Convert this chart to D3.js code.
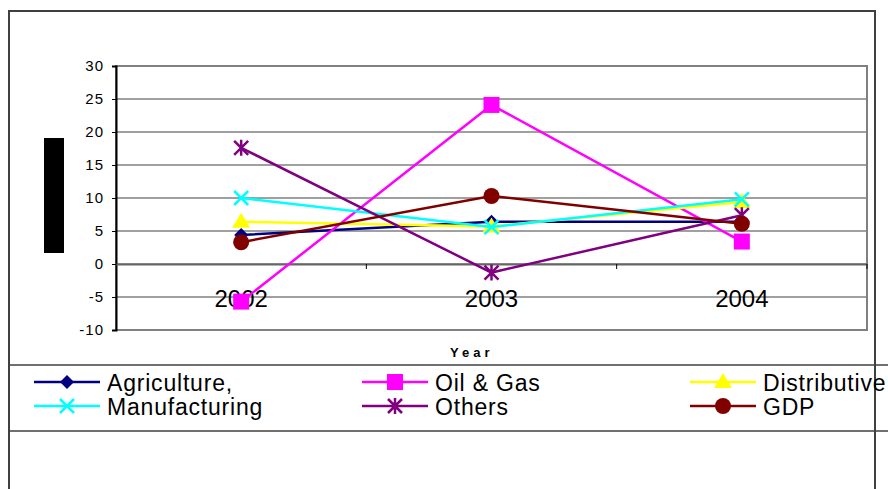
<!DOCTYPE html>
<html>
<head>
<meta charset="utf-8">
<script src="https://cdn.jsdelivr.net/npm/d3@7"></script>
<style>
  html, body { margin: 0; padding: 0; background: #fff; }
  svg { display: block; font-family: Arial, "Liberation Sans", sans-serif; }
</style>
</head>
<body>
<svg id="chart" width="888" height="489"></svg>
<script>
// Data
const years = ['2002', '2003', '2004'];
const agriculture = [4.4, 6.4, 6.4];
const oilGas = [-5.7, 24.1, 3.4];
const distributive = [6.4, 5.7, 9.4];
const manufacturing = [10.0, 5.6, 9.8];
const others = [17.6, -1.3, 7.4];
const gdp = [3.3, 10.3, 6.1];
const yTicks = [30, 25, 20, 15, 10, 5, 0, -5, -10];

const series = [
  { name: 'Agriculture,', values: agriculture, color: '#000080', marker: 'diamond' },
  { name: 'Oil & Gas', values: oilGas, color: '#ff00ff', marker: 'square' },
  { name: 'Distributive', values: distributive, color: '#ffff00', marker: 'triangle' },
  { name: 'Manufacturing', values: manufacturing, color: '#00ffff', marker: 'x' },
  { name: 'Others', values: others, color: '#800080', marker: 'star' },
  { name: 'GDP', values: gdp, color: '#800000', marker: 'circle' }
];

const svg = d3.select('#chart');
const plot = { left: 116, top: 66, right: 867, bottom: 330 };

const x = d3.scaleBand().domain(years).range([plot.left, plot.right]);
const y = d3.scaleLinear().domain([-10, 30]).range([plot.bottom, plot.top]);
const cx = d => x(d) + x.bandwidth() / 2;

// outer frame
svg.append('path')
  .attr('d', 'M9,489V11H875V489')
  .attr('fill', 'none').attr('stroke', '#404040').attr('stroke-width', 2);

// gridlines
svg.append('g').selectAll('line').data(yTicks).join('line')
  .attr('x1', plot.left).attr('x2', plot.right)
  .attr('y1', d => y(d)).attr('y2', d => y(d))
  .attr('stroke', '#808080').attr('stroke-width', 1.3);

// plot border
svg.append('rect')
  .attr('x', plot.left).attr('y', plot.top)
  .attr('width', plot.right - plot.left).attr('height', plot.bottom - plot.top)
  .attr('fill', 'none').attr('stroke', '#808080').attr('stroke-width', 2);

// y axis
const yAxis = svg.append('g').attr('transform', `translate(${plot.left},0)`)
  .call(d3.axisLeft(y).tickValues(yTicks).tickSize(4).tickPadding(8)
    .tickFormat(d => d < 0 ? '-' + Math.abs(d) : d));
yAxis.select('.domain').attr('stroke', '#000').attr('stroke-width', 2);
yAxis.selectAll('.tick line').attr('stroke', '#000');
yAxis.selectAll('text').attr('font-size', 15).attr('font-family', 'Arial, "Liberation Sans", sans-serif')
  .attr('fill', '#000').attr('letter-spacing', 1);

// x axis along zero line
const xAxis = svg.append('g').attr('transform', `translate(0,${y(0)})`)
  .call(d3.axisBottom(x).tickSize(0).tickFormat(''));
xAxis.select('.domain').attr('stroke', '#666').attr('stroke-width', 2);
svg.append('g').selectAll('line').data(years).join('line')
  .attr('x1', d => x(d) + x.bandwidth()).attr('x2', d => x(d) + x.bandwidth())
  .attr('y1', y(0)).attr('y2', y(0) + 5)
  .attr('stroke', '#000');

// category labels
svg.append('g').selectAll('text').data(years).join('text')
  .attr('x', d => cx(d)).attr('y', 307)
  .attr('text-anchor', 'middle').attr('font-size', 24)
  .text(d => d);

// axis title
svg.append('text').attr('x', 450).attr('y', 357)
  .attr('font-size', 13).attr('font-weight', 'bold').attr('letter-spacing', 4)
  .text('Year');

// black y-axis title box
svg.append('rect').attr('x', 44).attr('y', 138).attr('width', 20).attr('height', 115).attr('fill', '#000');

function markerPath (type) {
  switch (type) {
    case 'diamond': return 'M0,-7L7,0L0,7L-7,0Z';
    case 'square': return 'M-8,-8H8V8H-8Z';
    case 'triangle': return 'M0,-9L9,6H-9Z';
    case 'x': return 'M-7,-7L7,7M-7,7L7,-7';
    case 'star': return 'M-7,-7L7,7M-7,7L7,-7M0,-8V8';
    default: return null;
  }
}

function drawMarker (g, s, px, py) {
  if (s.marker === 'circle') {
    g.append('circle').attr('cx', px).attr('cy', py).attr('r', 8).attr('fill', s.color);
  } else if (s.marker === 'x' || s.marker === 'star') {
    g.append('path').attr('d', markerPath(s.marker))
      .attr('transform', `translate(${px},${py})`)
      .attr('fill', 'none').attr('stroke', s.color).attr('stroke-width', 2.5);
  } else {
    g.append('path').attr('d', markerPath(s.marker))
      .attr('transform', `translate(${px},${py})`)
      .attr('fill', s.color);
  }
}

const line = d3.line().x((d, i) => cx(years[i])).y(d => y(d));

series.forEach(s => {
  const g = svg.append('g');
  g.append('path').attr('d', line(s.values))
    .attr('fill', 'none').attr('stroke', s.color).attr('stroke-width', 2.5);
  s.values.forEach((v, i) => drawMarker(g, s, cx(years[i]), y(v)));
});

// legend
svg.append('line').attr('x1', 9).attr('x2', 888).attr('y1', 365).attr('y2', 365)
  .attr('stroke', '#404040').attr('stroke-width', 1.5);
svg.append('line').attr('x1', 9).attr('x2', 888).attr('y1', 431).attr('y2', 431)
  .attr('stroke', '#404040').attr('stroke-width', 1.5);

const legendCols = [34, 362, 690];
const legendRows = [382, 406];
series.forEach((s, i) => {
  const lx = legendCols[i % 3];
  const ly = legendRows[Math.floor(i / 3)];
  const g = svg.append('g');
  g.append('line').attr('x1', lx).attr('x2', lx + 66).attr('y1', ly).attr('y2', ly)
    .attr('stroke', s.color).attr('stroke-width', 2.5);
  drawMarker(g, s, lx + 33, ly);
  g.append('text').attr('x', lx + 73).attr('y', ly + 8.5)
    .attr('font-size', 23).attr('letter-spacing', 0.8)
    .text(s.name);
});
</script>
</body>
</html>
